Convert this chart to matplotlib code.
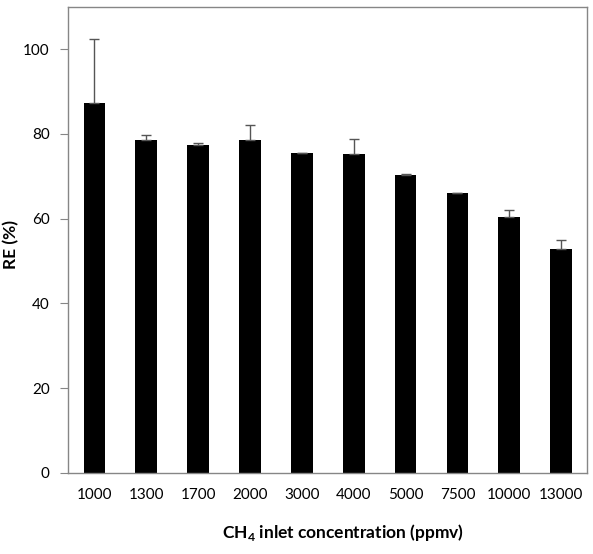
import numpy as np
import matplotlib
matplotlib.use("Agg")
import matplotlib.pyplot as plt

plt.rcParams["font.family"] = ["Lato", "DejaVu Sans"]
plt.rcParams["mathtext.fontset"] = "custom"
plt.rcParams["mathtext.rm"] = "Lato"
plt.rcParams["mathtext.bf"] = "Lato:bold"

concentrations = ["1000", "1300", "1700", "2000", "3000", "4000", "5000", "7500", "10000", "13000"]
re_mean = [87.2, 78.6, 77.3, 78.5, 75.4, 75.3, 70.2, 66.0, 60.3, 52.9]
re_err = [15.1, 1.1, 0.6, 3.7, 0.2, 3.4, 0.3, 0.0, 1.8, 2.0]

fig = plt.figure(figsize=(5.93, 5.54), dpi=100)
ax = fig.add_axes([0.1155, 0.1467, 0.8745, 0.841])

x = np.arange(len(concentrations))
ax.bar(x, re_mean, width=0.42, color="black", zorder=2)
ax.errorbar(x, re_mean, yerr=[np.zeros(len(re_err)), re_err], fmt="none",
            ecolor="#555555", elinewidth=1, capsize=3.5, capthick=1, zorder=3)

ax.set_xlim(-0.5, len(concentrations) - 0.5)
ax.set_ylim(0, 110)
ax.set_yticks([0, 20, 40, 60, 80, 100])
ax.set_xticks(x)
ax.set_xticklabels(concentrations)

for s in ax.spines.values():
    s.set_color("#868686")
    s.set_linewidth(1)
ax.tick_params(axis="y", direction="out", length=5.5, color="#868686", labelsize=11, pad=8)
ax.tick_params(axis="x", length=0, labelsize=11, pad=11)

ax.set_ylabel("RE (%)", fontsize=12.5, fontweight="bold")
ax.yaxis.set_label_coords(-0.0955, 0.49)
ax.set_xlabel(r"CH$_\mathbf{4}$ inlet concentration (ppmv)", fontsize=12.5,
              fontweight="bold")
ax.xaxis.set_label_coords(0.529, -0.106)

fig.savefig("out.png", dpi=100)
